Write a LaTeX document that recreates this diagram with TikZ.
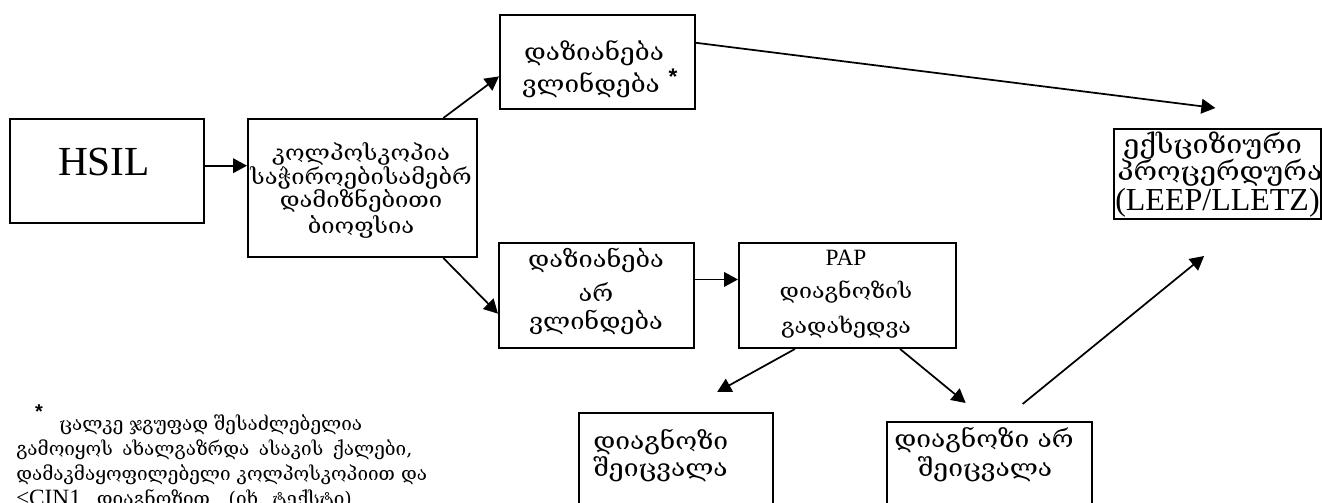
\documentclass[tikz,border=0pt]{standalone}
\usepackage{fontspec}
\setmainfont{Liberation Serif}
\newfontfamily\geo[FakeStretch=1.1]{DejaVu Serif}
\newfontfamily\geon{DejaVu Serif}
\newfontfamily\astfont{Liberation Sans}
\usetikzlibrary{arrows.meta,calc}
\newcommand{\gs}[1]{\geo\fontsize{#1}{#1}\selectfont}
\begin{document}
\begin{tikzpicture}[x=0.75pt,y=-0.75pt,
  box/.style={draw, line width=1.5pt, inner sep=0pt, anchor=north west, rectangle},
  gl/.style={inner sep=0pt},
  gf/.style={font=\geon\fontsize{14.2}{14.2}\selectfont, inner sep=0pt, anchor=base west},
  arr/.style={line width=1.3pt, -{Triangle[length=10.5pt,width=11pt]}}
]
\path[use as bounding box] (0,0) rectangle (1322,503);
\clip (0,0) rectangle (1322,503);

% boxes
\node[box, minimum width=194*0.75pt, minimum height=104*0.75pt] (hsil) at (9,118) {};
\node[box, minimum width=229*0.75pt, minimum height=138*0.75pt] (colpo) at (247,118) {};
\node[box, minimum width=195*0.75pt, minimum height=94*0.75pt] (top) at (499,14) {};
\node[box, minimum width=207*0.75pt, minimum height=90*0.75pt] (exc) at (1113,128) {};
\node[box, minimum width=195*0.75pt, minimum height=105*0.75pt] (dnf) at (498,242) {};
\node[box, minimum width=217*0.75pt, minimum height=105*0.75pt] (pap) at (738,242) {};
\node[box, minimum width=194*0.75pt, minimum height=130*0.75pt] (chg) at (578,412) {};
\node[box, minimum width=205*0.75pt, minimum height=130*0.75pt] (nch) at (886,421) {};

% texts
\node[font=\fontsize{31}{31}\selectfont, inner sep=0pt] (thsil) at (104,162) {HSIL};

\node[gl, font=\gs{16.2}] (tc1) at (361,154) {კოლპოსკოპია};
\node[gl, font=\gs{16.2}] (tc2) at (361,178) {საჭიროებისამებრ};
\node[gl, font=\gs{16.2}] (tc3) at (361,201) {დამიზნებითი};
\node[gl, font=\gs{16.2}] (tc4) at (361,227) {ბიოფსია};

\node[gl, font=\gs{17.8}] (tt1) at (594,53) {დაზიანება};
\node[gl, font=\gs{17.8}] (tt2) at (591,85) {ვლინდება};
\node[font=\astfont\bfseries\fontsize{17}{17}\selectfont, inner sep=0pt] (tt3) at (673,77) {*};

\node[gl, font=\gs{19.5}, anchor=west] (te1) at (1123,146) {ექსციზიური};
\node[gl, font=\gs{19.5}, anchor=west] (te2) at (1117,173) {პროცერდურა};
\node[font=\fontsize{24}{24}\selectfont, inner sep=0pt, anchor=west] (te3) at (1115,203) {(LEEP/LLETZ)};

\node[gl, font=\gs{17.3}] (td1) at (596,260) {დაზიანება};
\node[gl, font=\gs{17.3}] (td2) at (596,292) {არ};
\node[gl, font=\gs{17.3}] (td3) at (596,322) {ვლინდება};

\node[font=\fontsize{17.5}{17.5}\selectfont, inner sep=0pt] (tp1) at (846,258) {PAP};
\node[gl, font=\gs{15.8}] (tp2) at (846,292) {დიაგნოზის};
\node[gl, font=\gs{15.8}] (tp3) at (846,327) {გადახედვა};

\node[gl, font=\gs{18}, anchor=west] (tg1) at (593,442) {დიაგნოზი};
\node[gl, font=\gs{18}, anchor=west] (tg2) at (593,469) {შეიცვალა};

\node[gl, font=\gs{18}] (tn1) at (984,440) {დიაგნოზი არ};
\node[gl, font=\gs{18}] (tn2) at (985,469) {შეიცვალა};

% footnote
\node[font=\astfont\bfseries\fontsize{15}{15}\selectfont, inner sep=0pt] (fa) at (39,412) {*};
\node[gf] (f1) at (59,430) {ცალკე ჯგუფად შესაძლებელია};
\node[gf] (f2) at (16,455) {\makebox[297pt][s]{გამოიყოს ახალგაზრდა ასაკის ქალები,}};
\node[gf] (f3) at (16,480) {დამაკმაყოფილებელი კოლპოსკოპიით და};
\node[gf] (f4) at (16,505) {{\rmfamily\fontsize{17.5}{17.5}\selectfont ≤CIN1}\hspace{12pt}დიაგნოზით\hspace{14pt}(იხ. ტექსტი)};

% free ends
\coordinate (e1) at ($(exc.north west)!0.49!(exc.north east)+(0,-20)$);
\coordinate (c1) at ($(chg.north west)!0.71!(chg.north east)+(0,-20)$);
\coordinate (c2) at ($(nch.north west)!0.385!(nch.north east)+(0,-18)$);
\coordinate (c3) at ($(nch.north west)!0.66!(nch.north east)+(0,-17)$);
\coordinate (c4) at ($(exc.south west)!0.436!(exc.south east)+(0,36)$);

% connectors
\draw[arr] ($(hsil.north east)!0.45!(hsil.south east)$) coordinate (a1) -- (a1 -| colpo.west);
\draw[arr] ($(colpo.north west)!0.85!(colpo.north east)$) -- ($(top.north west)!0.65!(top.south west)$);
\draw[arr] ($(top.north east)!0.3!(top.south east)$) -- (e1);
\draw[arr] ($(colpo.south west)!0.85!(colpo.south east)$) -- ($(dnf.north west)!0.67!(dnf.south west)$);
\draw[arr] ($(dnf.north east)!0.35!(dnf.south east)$) coordinate (a5) -- (a5 -| pap.west);
\draw[arr] ($(pap.south west)!0.26!(pap.south east)$) -- (c1);
\draw[arr] ($(pap.south west)!0.74!(pap.south east)$) -- (c2);
\draw[arr] (c3) -- (c4);
\end{tikzpicture}
\end{document}
